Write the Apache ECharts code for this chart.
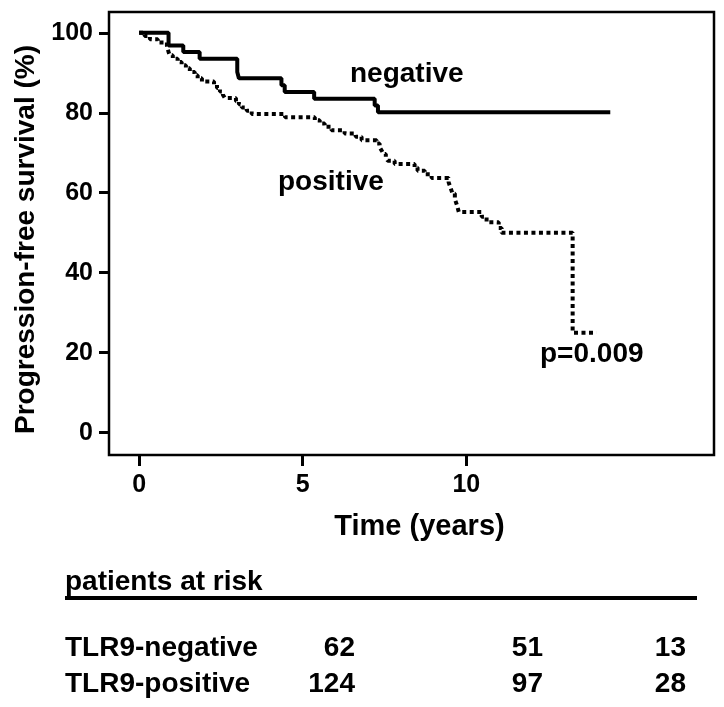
<!DOCTYPE html>
<html>
<head>
<meta charset="utf-8">
<script src="https://cdn.jsdelivr.net/npm/echarts@6/dist/echarts.min.js"></script>
<style>
  html, body { margin: 0; padding: 0; background: #fff; }
  #chart { width: 724px; height: 707px; }
</style>
</head>
<body>
<div id="chart"></div>
<script>
// ---- data ----
const negTime = [0, 0.9, 1.35, 1.85, 3.0, 3.05, 4.35, 4.45, 5.35, 7.2, 7.3, 14.4];
const negSurv = [100, 96.8, 95.2, 93.5, 90.2, 88.6, 86.9, 85.2, 83.5, 81.8, 80.1, 80.1];

const posTime = [0, 0.17, 0.33, 0.57, 0.85, 0.9, 0.94, 1.03, 1.18, 1.3, 1.43, 1.55, 1.7, 1.79, 1.92,
  2.29, 2.38, 2.47, 2.56, 2.62, 2.96, 3.05, 3.14, 3.29, 3.44, 4.46, 5.37, 5.52, 5.67, 5.88,
  6.28, 6.62, 6.8, 7.26, 7.35, 7.41, 7.47, 7.54, 7.6, 7.81, 8.42, 8.51, 8.73, 8.94, 9.46,
  9.52, 9.58, 9.65, 9.71, 9.77, 10.47, 10.62, 10.99, 11.08, 13.25, 13.98];
const posSurv = [100, 99.2, 98.4, 97.6, 96.8, 95.2, 94.4, 93.5, 92.7, 91.9, 91.1, 90.2, 89.4, 88.6, 87.8,
  87.0, 86.2, 85.3, 84.5, 83.7, 82.9, 82.1, 81.3, 80.5, 79.7, 78.9, 78.1, 77.3, 76.5, 75.6,
  74.8, 74.0, 73.1, 72.3, 71.4, 70.6, 69.7, 68.8, 68.0, 67.2, 66.3, 65.5, 64.6, 63.7, 62.6,
  61.2, 59.8, 58.4, 57.0, 55.2, 54.0, 52.6, 51.2, 50.0, 25.0, 25.0];

const xTicks = [0, 5, 10];
const yTicks = [0, 20, 40, 60, 80, 100];

const riskTitle = 'patients at risk';
const riskGroups = ['TLR9-negative', 'TLR9-positive'];
const riskNeg = [62, 51, 13];
const riskPos = [124, 97, 28];

const curveLabels = ['negative', 'positive'];
const pText = 'p=0.009';

// ---- chart ----
const FONT = '"Liberation Sans", Arial, Helvetica, sans-serif';
const chart = echarts.init(document.getElementById('chart'), null, { renderer: 'canvas' });

function zip(a, b) { return a.map((v, i) => [v, b[i]]); }

const riskCols = [355, 543, 686];
const riskRows = [648, 684];
const graphics = [];
// curve labels
graphics.push({ type: 'text', left: 350, top: 60, style: { text: curveLabels[0], font: 'bold 28px ' + FONT, fill: '#000' } });
graphics.push({ type: 'text', left: 278, top: 168, style: { text: curveLabels[1], font: 'bold 28px ' + FONT, fill: '#000' } });
graphics.push({ type: 'text', left: 540, top: 340, style: { text: pText, font: 'bold 28px ' + FONT, fill: '#000' } });
// risk table
graphics.push({ type: 'text', left: 65, top: 568, style: { text: riskTitle, font: 'bold 28px ' + FONT, fill: '#000' } });
graphics.push({ type: 'line', shape: { x1: 65, y1: 598, x2: 697, y2: 598 }, style: { stroke: '#000', lineWidth: 4 } });
[riskNeg, riskPos].forEach((row, r) => {
  graphics.push({ type: 'text', x: 65, y: riskRows[r], style: { text: riskGroups[r], font: 'bold 28px ' + FONT, fill: '#000', verticalAlign: 'middle', align: 'left' } });
  row.forEach((v, c) => {
    graphics.push({ type: 'text', x: riskCols[c], y: riskRows[r], style: { text: String(v), font: 'bold 28px ' + FONT, fill: '#000', verticalAlign: 'middle', align: 'right' } });
  });
});

chart.setOption({
  animation: false,
  backgroundColor: '#fff',
  grid: { left: 109, right: 10, top: 12, bottom: 252, show: true, borderColor: '#000', borderWidth: 2.5, containLabel: false },
  xAxis: {
    type: 'value', min: -0.92, max: 17.57,
    axisLine: { show: false, onZero: false },
    splitLine: { show: false },
    axisTick: { show: true, customValues: xTicks, length: 11, inside: false, lineStyle: { color: '#000', width: 3 } },
    axisLabel: { customValues: xTicks, margin: 18, color: '#000', fontSize: 25, fontWeight: 'bold', fontFamily: FONT },
    name: 'Time (years)', nameLocation: 'middle', nameGap: 57,
    nameTextStyle: { color: '#000', fontSize: 29, fontWeight: 'bold', fontFamily: FONT, padding: [0, 0, 0, 16] }
  },
  yAxis: {
    type: 'value', min: -5.6, max: 105.2,
    axisLine: { show: false, onZero: false },
    splitLine: { show: false },
    axisTick: { show: true, customValues: yTicks, length: 10, inside: false, lineStyle: { color: '#000', width: 3 } },
    axisLabel: { customValues: yTicks, margin: 16, color: '#000', fontSize: 25, fontWeight: 'bold', fontFamily: FONT },
    name: 'Progression-free survival (%)', nameLocation: 'middle', nameGap: 68, nameRotate: 90,
    nameTextStyle: { color: '#000', fontSize: 28, fontWeight: 'bold', fontFamily: FONT, padding: [0, 12, 0, 0] }
  },
  series: [
    {
      name: 'TLR9-negative', type: 'line', step: 'end', showSymbol: false, symbol: 'none',
      data: zip(negTime, negSurv),
      lineStyle: { color: '#000', width: 4, type: 'solid' }
    },
    {
      name: 'TLR9-positive', type: 'line', step: 'end', showSymbol: false, symbol: 'none',
      data: zip(posTime, posSurv),
      lineStyle: { color: '#000', width: 4, type: [4, 3.5], cap: 'butt' }
    }
  ],
  graphic: graphics
});
</script>
</body>
</html>
